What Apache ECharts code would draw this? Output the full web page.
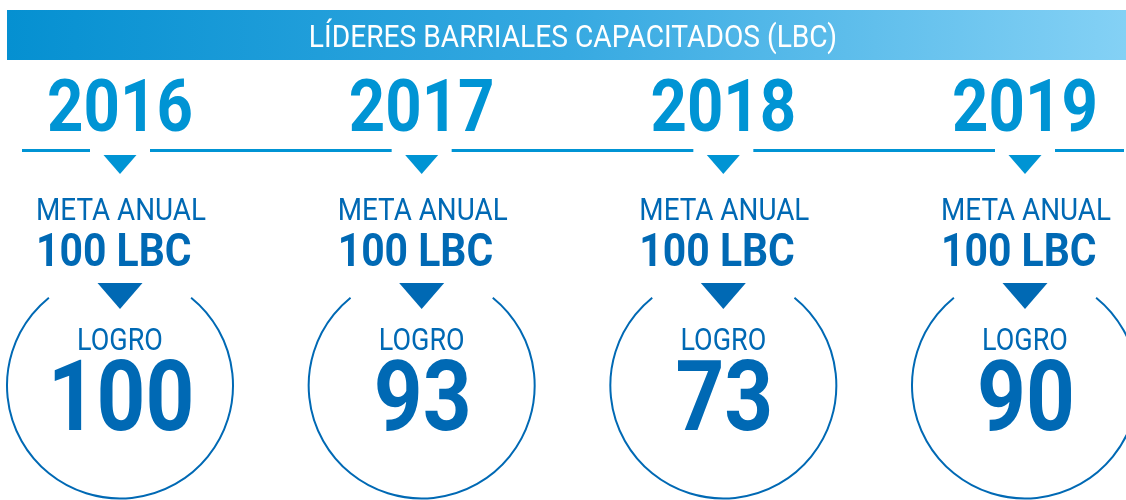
<!DOCTYPE html>
<html>
<head>
<meta charset="utf-8">
<title>Líderes barriales capacitados</title>
<script src="https://cdn.jsdelivr.net/npm/echarts@6/dist/echarts.min.js"></script>
<style>
  html, body { margin: 0; padding: 0; background: #fff; }
  #chart { width: 1126px; height: 500px; }
</style>
</head>
<body>
<div id="chart"></div>
<script>
var years = ["2016", "2017", "2018", "2019"];
var metas = [100, 100, 100, 100];
var logros = [100, 93, 73, 90];
var titulo = "LÍDERES BARRIALES CAPACITADOS (LBC)";
var metaLabel = "META ANUAL";
var logroLabel = "LOGRO";
var unidad = "LBC";

var azul = "#0094d4";
var azulOscuro = "#0069b4";
var FONT = "Roboto";
var SX = 0.87; // Roboto condensado a mano

function texto(str, x, y, size, weight, color, align) {
  return {
    type: "text",
    x: x,
    y: y,
    scaleX: SX,
    style: {
      text: str,
      x: 0,
      y: 0,
      align: align || "center",
      verticalAlign: "middle",
      font: weight + " " + size + "px " + FONT,
      fill: color
    }
  };
}

function triangulo(x, top, w, h, color) {
  return {
    type: "polygon",
    shape: { points: [[x - w / 2, top], [x + w / 2, top], [x, top + h]] },
    style: { fill: color }
  };
}

function renderColumna(params, api) {
  var i = api.value(0);
  var x = api.coord([i, 0])[0];
  var hueco = 30;
  var lineaY = 150.5;
  var children = [];

  // linea de tiempo
  var fin = i < years.length - 1 ? api.coord([i + 1, 0])[0] - hueco : 1124;
  children.push({
    type: "line",
    shape: { x1: x + hueco, y1: lineaY, x2: fin, y2: lineaY },
    style: { stroke: azul, lineWidth: 3 }
  });
  if (i === 0) {
    children.push({
      type: "line",
      shape: { x1: 22, y1: lineaY, x2: x - hueco, y2: lineaY },
      style: { stroke: azul, lineWidth: 3 }
    });
  }

  children.push(texto(years[i], x, 112.5, 73, "bold", azul));
  children.push(triangulo(x, 155, 33, 19, azul));

  children.push(texto(metaLabel, x + 1, 212, 32, "normal", azulOscuro));
  // alineado a la izquierda con "META ANUAL"
  children.push(texto(api.value(2) + " " + unidad, x - 84, 254.5, 47, "bold", azulOscuro, "left"));
  children.push(triangulo(x, 283, 45, 26, azulOscuro));

  // circulo abierto arriba
  var gap = 39 * Math.PI / 180;
  children.push({
    type: "arc",
    shape: {
      cx: x, cy: 385.5, r: 113,
      startAngle: -Math.PI / 2 + gap,
      endAngle: 3 * Math.PI / 2 - gap,
      clockwise: true
    },
    style: { stroke: azulOscuro, fill: null, lineWidth: 2 }
  });

  children.push(texto(logroLabel, x, 342, 31, "normal", azulOscuro));
  children.push(texto(String(api.value(1)), x + 1, 405, 98, "bold", azulOscuro));

  return { type: "group", children: children };
}

var myChart = echarts.init(document.getElementById("chart"));
var option = {
  backgroundColor: "#fff",
  animation: false,
  grid: { left: 120, right: 101, top: 0, bottom: 0 },
  xAxis: { type: "category", data: years, boundaryGap: false, show: false },
  yAxis: { type: "value", min: 0, max: 1, show: false },
  graphic: [
    {
      type: "rect",
      shape: { x: 7, y: 10, width: 1119, height: 50 },
      style: {
        fill: new echarts.graphic.LinearGradient(0, 0, 1, 0, [
          { offset: 0, color: "#0590d1" },
          { offset: 0.5, color: "#36a9e1" },
          { offset: 1, color: "#84d1f5" }
        ])
      }
    },
    {
      type: "text",
      x: 573,
      y: 38.5,
      scaleX: 0.88,
      style: {
        text: titulo,
        x: 0,
        y: 0,
        align: "center",
        verticalAlign: "middle",
        font: "normal 32px " + FONT,
        fill: "#fff"
      }
    }
  ],
  series: [
    {
      type: "custom",
      clip: false,
      renderItem: renderColumna,
      data: years.map(function (y, i) { return [i, logros[i], metas[i]]; })
    }
  ]
};
myChart.setOption(option);
</script>
</body>
</html>
